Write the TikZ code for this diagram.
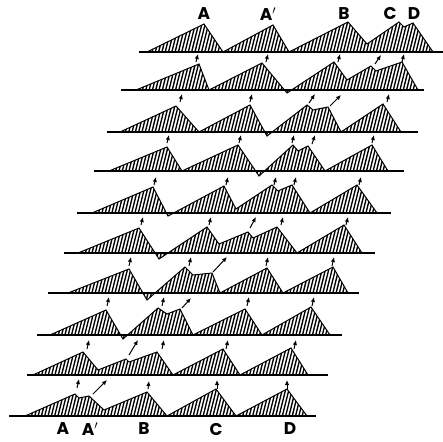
\documentclass[tikz,border=0pt]{standalone}
\usepackage{fontspec}
\setsansfont{Poppins}
\usetikzlibrary{arrows.meta}

\tikzset{
  dune/.style={line width=1pt, line join=miter,
    path picture={\foreach \h in {0,3.3,...,560}
      \draw[line width=1.35pt] (\h,0) -- ++(-110,441);}},
  ground/.style={line width=1.4pt},
  flow/.style={->, line width=1pt},
  lbl/.style={font=\sffamily\bfseries\fontsize{17}{17}\selectfont}
}

\begin{document}
\begin{tikzpicture}[x=1pt,y=-1pt,>={Latex[length=5pt,width=4.4pt]}]
\useasboundingbox (0,0) rectangle (443,441);

% row 1 (top)
\draw[dune] (147,52) -- (204,24) -- (223,52) -- (273,25) -- (289,52) -- (348,22) -- (367,44)
  -- (399,22) -- (404,27) -- (413,23) -- (433,52) -- cycle;
\draw[ground] (139,52) -- (443,52);
% row 2
\draw[dune] (136,90) -- (199,64) -- (209,90) -- (262,63) -- (287,93) -- (334,62) -- (347,80)
  -- (371,66) -- (376,71) -- (402,62) -- (418,90) -- cycle;
\draw[ground] (121,90) -- (424,90);
% row 3
\draw[dune] (120,132) -- (176,106) -- (199,132) -- (250,105) -- (267,136) -- (307,105) -- (313,110)
  -- (328,107) -- (341,132) -- (383,104) -- (401,132) -- cycle;
\draw[ground] (107,132) -- (418,132);
% row 4
\draw[dune] (109,171) -- (167,147) -- (182,171) -- (238,145) -- (259,176) -- (293,145) -- (298,151)
  -- (308,146) -- (325,171) -- (372,145) -- (388,171) -- cycle;
\draw[ground] (94,171) -- (404,171);
% row 5
\draw[dune] (92,213) -- (153,187) -- (168,216) -- (224,186) -- (236,209) -- (272,185) -- (278,191)
  -- (292,185) -- (310,213) -- (357,185) -- (377,213) -- cycle;
\draw[ground] (77,213) -- (391,213);
% row 6
\draw[dune] (78,253) -- (139,228) -- (159,259) -- (207,227) -- (219,244) -- (248,232) -- (253,238)
  -- (277,227) -- (297,253) -- (344,225) -- (362,253) -- cycle;
\draw[ground] (64,253) -- (375,253);
% row 7
\draw[dune] (68,293) -- (129,269) -- (147,300) -- (185,267) -- (193,275) -- (212,273) -- (220,293)
  -- (267,268) -- (283,293) -- (333,267) -- (348,293) -- cycle;
\draw[ground] (48,293) -- (359,293);
% row 8
\draw[dune] (50,335) -- (106,310) -- (123,339) -- (158,308) -- (167,314) -- (180,309) -- (193,335)
  -- (245,309) -- (262,335) -- (311,307) -- (330,335) -- cycle;
\draw[ground] (37,335) -- (342,335);
% row 9
\draw[dune] (33,375) -- (83,352) -- (98,370) -- (126,359) -- (129,362) -- (157,352) -- (173,375)
  -- (223,349) -- (240,375) -- (291,348) -- (308,375) -- cycle;
\draw[ground] (27,375) -- (328,375);
% row 10 (bottom)
\draw[dune] (25,416) -- (75,394) -- (79,398) -- (89,396) -- (104,410) -- (147,392) -- (167,416)
  -- (216,389) -- (236,416) -- (287,389) -- (307,416) -- cycle;
\draw[ground] (9,416) -- (316,416);

% crest movement
\draw[flow] (196,62) -- (198,54);
\draw[flow] (266,62) -- (268,54);
\draw[flow] (338,62) -- (340,54);
\draw[flow] (375,64) -- (381,55);
\draw[flow] (402,62) -- (404,54);

\draw[flow] (180,102) -- (182,94);
\draw[flow] (250,102) -- (252,94);
\draw[flow] (309,103) -- (315,94);
\draw[flow] (330,106) -- (341,95);
\draw[flow] (387,102) -- (389,94);

\draw[flow] (167,143) -- (169,135);
\draw[flow] (239,143) -- (241,135);
\draw[flow] (292,143) -- (294,135);
\draw[flow] (312,144) -- (315,135);
\draw[flow] (372,143) -- (374,135);

\draw[flow] (154,185) -- (156,177);
\draw[flow] (226,185) -- (228,177);
\draw[flow] (274,185) -- (276,177);
\draw[flow] (294,185) -- (296,177);
\draw[flow] (359,185) -- (361,177);

\draw[flow] (141,225) -- (143,217);
\draw[flow] (209,225) -- (211,217);
\draw[flow] (250,228) -- (256,217);
\draw[flow] (281,225) -- (283,217);
\draw[flow] (346,225) -- (348,217);

\draw[flow] (129,266) -- (131,257);
\draw[flow] (189,266) -- (191,257);
\draw[flow] (213,272) -- (227,257);
\draw[flow] (266,266) -- (268,257);
\draw[flow] (332,266) -- (334,257);

\draw[flow] (107,306) -- (109,297);
\draw[flow] (162,306) -- (164,297);
\draw[flow] (182,308) -- (191,298);
\draw[flow] (247,306) -- (249,297);
\draw[flow] (312,306) -- (314,297);

\draw[flow] (87,349) -- (89,340);
\draw[flow] (129,355) -- (138,340);
\draw[flow] (162,349) -- (164,340);
\draw[flow] (226,349) -- (228,340);
\draw[flow] (294,349) -- (296,340);

\draw[flow] (77,388) -- (79,379);
\draw[flow] (93,394) -- (107,380);
\draw[flow] (148,389) -- (149,381);
\draw[flow] (217,389) -- (217,380);
\draw[flow] (287,389) -- (287,380);

% labels
\node[lbl] (tA) at (204,14) {A};
\node[lbl] (tA1) at (268,14) {A$'$};
\node[lbl] (tB) at (344,14) {B};
\node[lbl] (tC) at (390,14) {C};
\node[lbl] (tD) at (414,14) {D};
\node[lbl] (bA) at (63,429) {A};
\node[lbl] (bA1) at (90,429) {A$'$};
\node[lbl] (bB) at (144,429) {B};
\node[lbl] (bC) at (216,429) {C};
\node[lbl] (bD) at (290,429) {D};
\end{tikzpicture}
\end{document}
